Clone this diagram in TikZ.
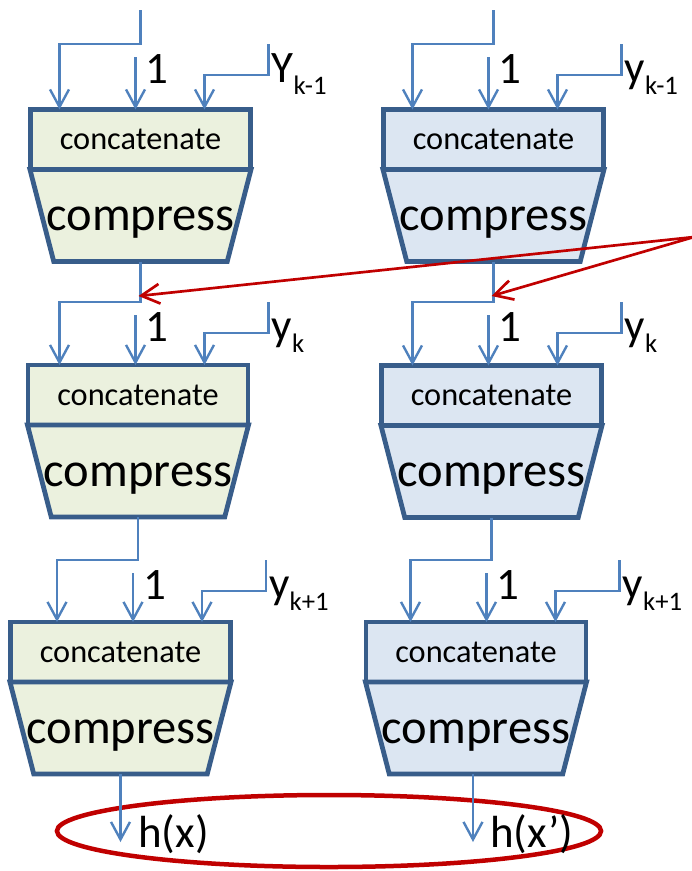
\documentclass[tikz,border=0pt]{standalone}
\usepackage{fontspec}
\setmainfont{Carlito}
\usepackage{tikz}
\usetikzlibrary{arrows.meta,positioning,shapes.geometric}

\definecolor{wireblue}{RGB}{79,129,189}
\definecolor{boxedge}{RGB}{56,93,138}
\definecolor{greenfill}{RGB}{235,241,222}
\definecolor{bluefill}{RGB}{220,230,242}
\definecolor{hitred}{RGB}{192,0,0}
\newcommand{\idx}[1]{\raisebox{-9pt}{\fontsize{19}{19}\selectfont #1}}
\newcommand{\squeeze}[1]{\makebox[3cm][c]{#1}}

\begin{document}
\begin{tikzpicture}[
  x=0.025cm, y=-0.025cm,
  catbox/.style={rectangle, draw=boxedge, line width=3.4pt, minimum width=5.5cm,
                 minimum height=1.5cm, inner sep=0pt, outer sep=0pt,
                 font=\fontsize{23}{25}\selectfont},
  compbox/.style={trapezium, shape border rotate=180, trapezium stretches body=true,
                  trapezium angle=75.5, draw=boxedge, line width=3.4pt,
                  minimum width=5.525cm, text height=1.525cm, text depth=0.775cm,
                  inner sep=0pt, outer sep=0pt, font=\fontsize{34.5}{37}\selectfont},
  lbl/.style={inner sep=0pt, anchor=base west, font=\fontsize{32}{34}\selectfont},
  wire/.style={draw=wireblue, line width=1.7pt,
               -{Straight Barb[length=12.5pt, width=13.5pt]}},
  hit/.style={draw=hitred, line width=1.9pt,
              -{Straight Barb[length=13pt, width=14pt]}},
]
  \useasboundingbox (0,0) rectangle (692,871);

  % -- Left column: chain for x --
  \node[catbox, fill=greenfill] (catA) at (140.5,139.5) {concatenate};
  \node[compbox, fill=greenfill, below=0pt of catA] (compA) {\squeeze{compress}};
  \node[catbox, fill=greenfill] (catB) at (138,395) {concatenate};
  \node[compbox, fill=greenfill, below=0pt of catB] (compB) {\squeeze{compress}};
  \node[catbox, fill=greenfill] (catC) at (120.5,652) {concatenate};
  \node[compbox, fill=greenfill, below=0pt of catC] (compC) {\squeeze{compress}};

  % -- Right column: chain for x' --
  \node[catbox, fill=bluefill] (catD) at (493.5,139.5) {concatenate};
  \node[compbox, fill=bluefill, below=0pt of catD] (compD) {\squeeze{compress}};
  \node[catbox, fill=bluefill] (catE) at (491.5,395.5) {concatenate};
  \node[compbox, fill=bluefill, below=0pt of catE] (compE) {\squeeze{compress}};
  \node[catbox, fill=bluefill] (catF) at (476,652) {concatenate};
  \node[compbox, fill=bluefill, below=0pt of catF] (compF) {\squeeze{compress}};

  % Split points of the chaining value
  \coordinate (topA) at (140.5,10);
  \coordinate (topD) at (493.5,10);
  \coordinate (jA) at (140.5,44);
  \coordinate (jB) at (compA.south |- 0,302);
  \coordinate (jC) at (compB.south |- 0,560);
  \coordinate (jD) at (493.5,44);
  \coordinate (jE) at (compD.south |- 0,302);
  \coordinate (jF) at (compE.south |- 0,560);

  % Three inputs into every concatenate box
  \foreach \s/\b in {topA/A, compA.south/B, compB.south/C,
                     topD/D, compD.south/E, compE.south/F} {
    \coordinate (o\b) at ([shift={(-5,13)}]j\b);
    \coordinate (r\b) at ([shift={(128,0)}]j\b);
    \draw[wire] (\s) -- (j\b) -| ([shift={(-81,0)}]j\b |- cat\b.north);
    \draw[wire] (o\b) -- (o\b |- cat\b.north);
    \draw[wire] (r\b) -- ++(0,31) -| ([shift={(64,0)}]j\b |- cat\b.north);
  }

  % Labels of the inputs
  \node[lbl] (oneA) at ([shift={(10,26)}]oA) {1};
  \node[lbl] (oneB) at ([shift={(10,26)}]oB) {1};
  \node[lbl] (oneC) at ([shift={(10,26)}]oC) {1};
  \node[lbl] (oneD) at ([shift={(10,26)}]oD) {1};
  \node[lbl] (oneE) at ([shift={(10,26)}]oE) {1};
  \node[lbl] (oneF) at ([shift={(10,26)}]oF) {1};
  \node[lbl] (yA) at ([shift={(3,38)}]rA) {Y\idx{k-1}};
  \node[lbl] (yB) at ([shift={(3,38)}]rB) {y\idx{k}};
  \node[lbl] (yC) at ([shift={(3,38)}]rC) {y\idx{k+1}};
  \node[lbl] (yD) at ([shift={(3,38)}]rD) {y\idx{k-1}};
  \node[lbl] (yE) at ([shift={(3,38)}]rE) {y\idx{k}};
  \node[lbl] (yF) at ([shift={(3,38)}]rF) {y\idx{k+1}};

  % Collision of the two chains
  \coordinate (src) at (694,237);
  \coordinate (hitB) at ([shift={(-2,-6)}]jB);
  \coordinate (hitE) at ([shift={(-2,-6)}]jE);
  \draw[hit] (src) -- (hitB);
  \draw[hit] (src) -- (hitE);

  % Outputs
  \node[ellipse, draw=hitred, line width=3.2pt, minimum width=13.6cm,
        minimum height=1.8cm] (collide) at (329,831) {};
  \node[lbl] (hx) at (138,847) {h(x)};
  \node[lbl] (hxp) at (490,847) {h(x’)};
  \coordinate (outC) at (compC.south |- 0,842);
  \coordinate (outF) at ([shift={(-3,0)}]compF.south |- 0,842);
  \draw[wire] (compC.south) -- (outC);
  \draw[wire] (outF |- compF.south) -- (outF);

\end{tikzpicture}
\end{document}
